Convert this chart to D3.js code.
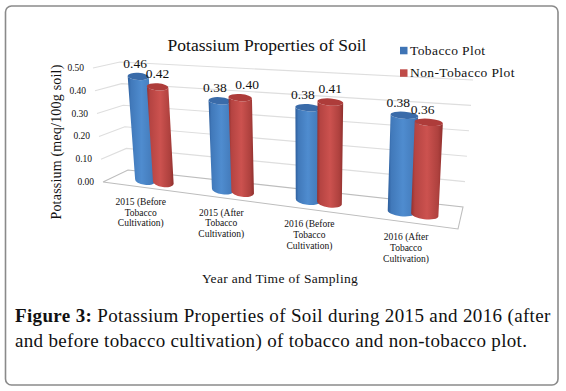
<!DOCTYPE html>
<html><head><meta charset="utf-8">
<style>html,body{margin:0;padding:0;background:#fff}svg{display:block}text{font-family:"Liberation Serif",serif;fill:#111}</style>
<script src="https://cdnjs.cloudflare.com/ajax/libs/d3/7.8.5/d3.min.js"></script>
</head><body><svg id="c" width="566" height="391"></svg>
<script>
const categories = [
  ["2015 (Before","Tobacco","Cultivation)"],
  ["2015 (After","Tobacco","Cultivation)"],
  ["2016  (Before","Tobacco","Cultivation)"],
  ["2016 (After","Tobacco","Cultivation)"]
];
const seriesNames = ["Tobacco Plot","Non-Tobacco Plot"];
const tobacco = [0.46,0.38,0.38,0.38];
const nonTobacco = [0.42,0.40,0.41,0.36];
const yTicks = [0,0.1,0.2,0.3,0.4,0.5];
const chartTitle = "Potassium Properties of Soil";
const yTitle = "Potassium  (meq/100g soil)";
const xTitle = "Year and Time  of  Sampling";
const captionBold = "Figure 3:";
const captionLine1 = " Potassium Properties of Soil during 2015 and 2016 (after";
const captionLine2 = "and before tobacco cultivation) of tobacco and non-tobacco plot.";

const svg = d3.select("#c");
const catIdx = d3.range(categories.length);
const x0 = d3.scaleBand().domain(catIdx).range([0,1]);
const x1 = d3.scaleBand().domain([0,1]).range([0,x0.bandwidth()]).paddingInner(0).paddingOuter(1.08);
const yS = d3.scaleLinear().domain([0,0.5]).range([0,1]);
const k = 0.2, warp = u => u/(1+k*(1-u));
const lerp = d3.interpolateNumber;
const cb = {fl:[103,182],fr:[458,229],bl:[128,170],br:[463,207]};
const ct = {fl:[93,68],fr:[463,96],bl:[120,62],br:[473,80]};
function P(u,w,v){
  const t=yS(v), m=i=>{
    const bot = lerp(lerp(cb.fl[i],cb.fr[i])(u), lerp(cb.bl[i],cb.br[i])(u))(w);
    const top = lerp(lerp(ct.fl[i],ct.fr[i])(u), lerp(ct.bl[i],ct.br[i])(u))(w);
    return lerp(bot,top)(t);
  };
  return [m(0),m(1)];
}
const line = d3.line();
// frame
svg.append("rect").attr("x",5.5).attr("y",6).attr("width",552.5).attr("height",379).attr("rx",6)
  .attr("fill","#fff").attr("stroke","#8a8a8a").attr("stroke-width",1.6);
// defs
const defs = svg.append("defs");
const grads = [["#2d5d9b","#4f8ccf","#3a6dab"],["#93302e","#cc524f","#8f2f2d"]];
grads.forEach((g,i)=>{
  const lg=defs.append("linearGradient").attr("id","g"+i);
  [[0,g[0]],[0.12,d3.interpolateRgb(g[0],g[1])(0.6)],[0.5,g[1]],[0.85,d3.interpolateRgb(g[1],g[2])(0.5)],[1,g[2]]]
    .forEach(s=>lg.append("stop").attr("offset",s[0]).attr("stop-color",s[1]));
});
const capCol=["#3a6ba9","#ae3c3a"];
// grid
const grid=svg.append("g").attr("fill","none").attr("stroke","#dedede").attr("stroke-width",1.1);
yTicks.filter(v=>v>0).forEach(v=>{
  grid.append("path").attr("d",line([P(0,0,v),P(0,1,v),P(1,1,v)]));
});
grid.append("path").attr("d",line([P(0,0,0),P(0,1,0),P(1,1,0),P(1,0,0),P(0,0,0)])).attr("stroke","#bdbdbd");
// tick labels
svg.append("g").selectAll("text").data(yTicks).join("text")
  .attr("x",d=>P(0,0,d)[0]-9).attr("y",d=>P(0,0,d)[1]).attr("dy",".32em")
  .attr("text-anchor","end").style("font-size","9.5px").text(d=>d3.format(".2f")(d));
// bars
const barW=0.068, depth=0.45, ry=3.6, barShift=0.009;
const series=[tobacco,nonTobacco];
const bars=[]; catIdx.forEach(c=>series.forEach((s,i)=>bars.push({c,i,v:s[c]})));
const uC=d=>x0(d.c)+x1(d.i)+x1.bandwidth()/2;
const wu=u=>warp(u)+barShift;
const gb=svg.append("g");
bars.forEach(d=>{
  const bl=P(wu(uC(d)-barW/2),depth,0), br=P(wu(uC(d)+barW/2),depth,0),
        tl=P(wu(uC(d)-barW/2),depth,d.v), tr=P(wu(uC(d)+barW/2),depth,d.v);
  const rx=(tr[0]-tl[0])/2, rot=Math.atan2(tr[1]-tl[1],tr[0]-tl[0])*180/Math.PI,
        rxb=(br[0]-bl[0])/2, rotb=Math.atan2(br[1]-bl[1],br[0]-bl[0])*180/Math.PI;
  gb.append("path").attr("fill",`url(#g${d.i})`)
    .attr("d",`M${tl}L${bl}A${rxb},${ry+0.8} ${rotb} 0 0 ${br}L${tr}A${rx},${ry} ${rot} 0 1 ${tl}Z`);
  gb.append("path").attr("fill",capCol[d.i])
    .attr("d",`M${tl}A${rx},${ry} ${rot} 0 1 ${tr}A${rx},${ry} ${rot} 0 1 ${tl}Z`);
});
// value labels
const labelDx=[-3,0,-5,7,-5,0,-6,-6];
svg.append("g").selectAll("text").data(bars).join("text")
  .attr("x",(d,i)=>P(wu(uC(d)),depth,d.v)[0]+labelDx[i])
  .attr("y",d=>P(wu(uC(d)),depth,d.v)[1]-13).attr("dy",".32em")
  .attr("text-anchor","middle").style("font-size","13.5px").text(d=>d3.format(".2f")(d.v));
// category labels
catIdx.forEach(c=>{
  const p=P(warp(x0(c)+x0.bandwidth()/2),0,0);
  const t=svg.append("text").attr("text-anchor","middle").style("font-size","9.5px");
  categories[c].forEach((l,j)=>t.append("tspan").attr("x",p[0]).attr("y",p[1]+15+j*10.7).attr("dy",".32em").text(l));
});
// titles
svg.append("text").attr("x",267).attr("y",45).attr("dy",".32em").attr("text-anchor","middle").style("font-size","17.5px").text(chartTitle);
svg.append("text").attr("transform","translate(57,142) rotate(-90)").attr("dy",".32em").attr("text-anchor","middle").style("font-size","14px").style("letter-spacing","0.2px").text(yTitle);
svg.append("text").attr("x",280).attr("y",279).attr("dy",".32em").attr("text-anchor","middle").style("font-size","13.5px").style("letter-spacing","0.3px").text(xTitle);
// legend
const legendColors=["#3f74b5","#bf4b48"];
seriesNames.forEach((n,i)=>{
  const y=[50.5,73][i];
  svg.append("rect").attr("x",400).attr("y",y-3.7).attr("width",7.5).attr("height",7.5).attr("fill",legendColors[i]);
  svg.append("text").attr("x",410).attr("y",y).attr("dy",".32em").style("font-size","13.5px").style("letter-spacing","0.4px").text(n);
});
// caption
const cap=svg.append("text").attr("x",15).attr("y",322).style("font-size","19px").style("letter-spacing","0.35px");
cap.append("tspan").style("font-weight","bold").text(captionBold);
cap.append("tspan").attr("xml:space","preserve").text(captionLine1);
svg.append("text").attr("x",15).attr("y",347).style("font-size","19px").style("letter-spacing","0.33px").text(captionLine2);
</script></body></html>
